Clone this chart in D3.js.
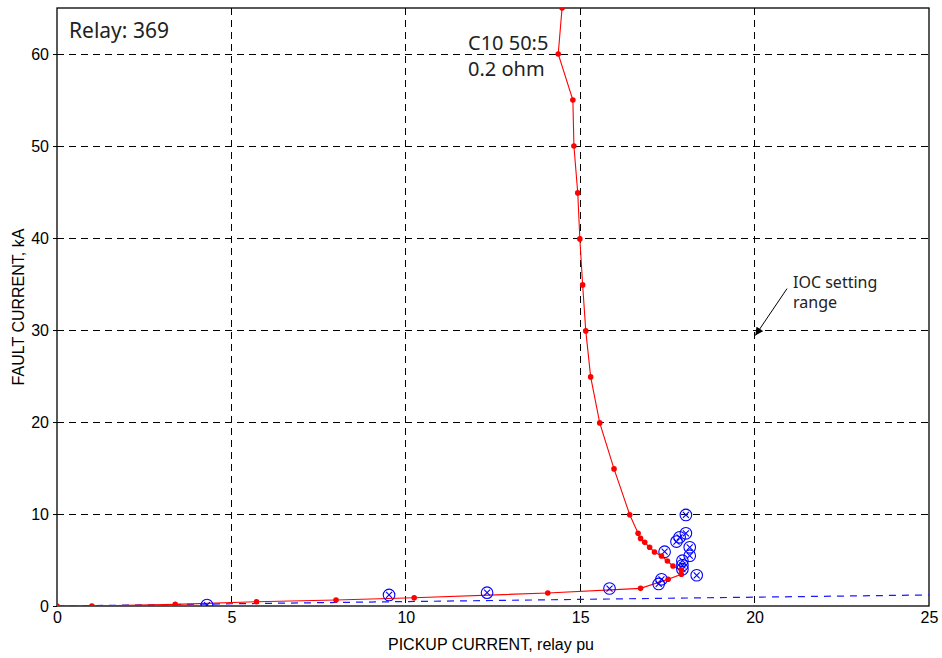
<!DOCTYPE html>
<html>
<head>
<meta charset="utf-8">
<script src="https://cdn.jsdelivr.net/npm/d3@7"></script>
<style>
  html, body { margin: 0; padding: 0; background: #fff; }
  svg { display: block; }
</style>
</head>
<body>
<svg id="chart" width="942" height="658"></svg>
<script>
// ---- data ----
const xTicks = [0, 5, 10, 15, 20, 25];
const yTicks = [0, 10, 20, 30, 40, 50, 60];
const xLabel = "PICKUP CURRENT, relay pu";
const yLabel = "FAULT CURRENT, kA";

// red curve: pickup current (relay pu) vs fault current (kA)
const redX = [0, 1.0, 3.39, 5.72, 8.0, 10.24, 14.07, 16.73, 17.52, 17.9, 17.9, 17.66, 17.5, 17.33, 17.13, 16.99, 16.85, 16.73, 16.66, 16.42, 15.97, 15.56, 15.3, 15.16, 15.07, 14.99, 14.93, 14.82, 14.79, 14.37, 14.48];
const redY = [0, 0, 0.18, 0.47, 0.65, 0.9, 1.41, 1.92, 2.9, 3.45, 3.9, 4.35, 4.89, 5.43, 5.87, 6.38, 6.92, 7.35, 7.9, 9.92, 14.9, 19.9, 24.9, 29.9, 34.9, 39.9, 44.9, 50, 55, 60, 65];

// blue circled-x test points
const blueX = [4.3, 9.52, 12.33, 15.84, 17.25, 17.33, 18.34, 17.93, 17.93, 17.93, 18.14, 17.42, 18.14, 17.76, 17.85, 18.03, 18.03];
const blueY = [0.1, 1.2, 1.45, 1.9, 2.4, 2.9, 3.34, 4.0, 4.42, 4.93, 5.47, 5.9, 6.38, 7.0, 7.47, 7.9, 9.9];

// blue dashed reference line
const dashX = [0, 25];
const dashY = [0, 1.2];

const annoRelay = "Relay: 369";
const annoCT = ["C10 50:5", "0.2 ohm"];
const annoIOC = ["IOC setting", "range"];
const arrowFrom = [20.93, 34.5];
const arrowTo = [20.02, 29.4];

// ---- layout ----
const svg = d3.select("#chart");
const L = 57, T = 8, R = 929, B = 606;
const x = d3.scaleLinear().domain([0, 25]).range([L, R]);
const y = d3.scaleLinear().domain([0, 65]).range([B, T]);

const gridFont = "'Liberation Sans', Arial, Helvetica, sans-serif";
const annoFont = "'Noto Sans', 'Open Sans', sans-serif";

// clip
const defs = svg.append("defs");
defs.append("clipPath").attr("id", "clip")
  .append("rect").attr("x", L).attr("y", T).attr("width", R - L).attr("height", B - T);

// grid
const grid = svg.append("g");
grid.selectAll(".gx").data(xTicks.filter(d => d > 0 && d < 25)).enter().append("line")
  .attr("x1", d => x(d)).attr("x2", d => x(d)).attr("y1", T).attr("y2", B)
  .attr("stroke", "#000").attr("stroke-width", 1).attr("stroke-dasharray", "7,5")
  .attr("shape-rendering", "crispEdges");
grid.selectAll(".gy").data(yTicks.filter(d => d > 0)).enter().append("line")
  .attr("x1", L).attr("x2", R).attr("y1", d => y(d)).attr("y2", d => y(d))
  .attr("stroke", "#000").attr("stroke-width", 1).attr("stroke-dasharray", "7,5")
  .attr("shape-rendering", "crispEdges");

// axes
const xAxis = d3.axisBottom(x).tickValues(xTicks).tickSize(0).tickPadding(6);
const yAxis = d3.axisLeft(y).tickValues(yTicks).tickSize(4).tickPadding(4);
const gx = svg.append("g").attr("transform", `translate(0,${B})`).call(xAxis);
const gy = svg.append("g").attr("transform", `translate(${L},0)`).call(yAxis);
[gx, gy].forEach(g => {
  g.select(".domain").remove();
  g.selectAll("text").attr("font-family", gridFont).attr("font-size", 16).attr("fill", "#000");
  g.selectAll("line").attr("stroke", "#000");
});
gx.selectAll("text").attr("dy", "0.71em");
gy.selectAll("text").attr("dy", "0.35em");

// frame
svg.append("rect").attr("x", L).attr("y", T).attr("width", R - L).attr("height", B - T)
  .attr("fill", "none").attr("stroke", "#000").attr("stroke-width", 1.3);

// axis labels
svg.append("text").attr("x", (L + R) / 2 - 2).attr("y", 650).attr("text-anchor", "middle")
  .attr("font-family", gridFont).attr("font-size", 16).text(xLabel);
svg.append("text").attr("transform", `translate(24,${(T + B) / 2}) rotate(-90)`).attr("text-anchor", "middle")
  .attr("font-family", gridFont).attr("font-size", 16).text(yLabel);

const plot = svg.append("g").attr("clip-path", "url(#clip)");

// blue dashed line
const dashData = dashX.map((d, i) => [d, dashY[i]]);
plot.append("path").datum(dashData)
  .attr("d", d3.line().x(d => x(d[0])).y(d => y(d[1])))
  .attr("fill", "none").attr("stroke", "#1a1aff").attr("stroke-width", 1.2).attr("stroke-dasharray", "7,6");

// red curve
const redData = redX.map((d, i) => [d, redY[i]]);
plot.append("path").datum(redData)
  .attr("d", d3.line().x(d => x(d[0])).y(d => y(d[1])))
  .attr("fill", "none").attr("stroke", "#ff0000").attr("stroke-width", 1.1);

// blue circled-x markers
const blueData = blueX.map((d, i) => [d, blueY[i]]);
const bm = plot.selectAll(".bm").data(blueData).enter().append("g")
  .attr("transform", d => `translate(${x(d[0])},${y(d[1])})`);
bm.append("circle").attr("r", 5.8).attr("fill", "none").attr("stroke", "#0000ff").attr("stroke-width", 1.1);
bm.append("path").attr("d", "M-3,-3L3,3M-3,3L3,-3").attr("stroke", "#0000ff").attr("stroke-width", 1.1);

// red dots
plot.selectAll(".rd").data(redData).enter().append("circle")
  .attr("cx", d => x(d[0])).attr("cy", d => y(d[1])).attr("r", 2.8).attr("fill", "#ff0000");

// annotations
svg.append("text").attr("x", 69).attr("y", 38).attr("font-family", annoFont).attr("font-size", 21)
  .attr("fill", "#222").text(annoRelay);
svg.append("text").attr("x", 468).attr("y", 50).attr("font-family", annoFont).attr("font-size", 20)
  .attr("fill", "#222").text(annoCT[0]);
svg.append("text").attr("x", 468).attr("y", 76).attr("font-family", annoFont).attr("font-size", 20)
  .attr("fill", "#222").text(annoCT[1]);
svg.append("text").attr("x", 793).attr("y", 288).attr("font-family", annoFont).attr("font-size", 16)
  .attr("fill", "#222").text(annoIOC[0]);
svg.append("text").attr("x", 793).attr("y", 308).attr("font-family", annoFont).attr("font-size", 16)
  .attr("fill", "#222").text(annoIOC[1]);

// arrow
defs.append("marker").attr("id", "ah").attr("viewBox", "0 0 10 10")
  .attr("refX", 10).attr("refY", 5).attr("markerWidth", 9).attr("markerHeight", 8)
  .attr("markerUnits", "userSpaceOnUse").attr("orient", "auto")
  .append("path").attr("d", "M0,0L10,5L0,10Z").attr("fill", "#000");
svg.append("line").attr("x1", x(arrowFrom[0])).attr("y1", y(arrowFrom[1]))
  .attr("x2", x(arrowTo[0])).attr("y2", y(arrowTo[1]))
  .attr("stroke", "#000").attr("stroke-width", 1).attr("marker-end", "url(#ah)");
</script>
</body>
</html>
